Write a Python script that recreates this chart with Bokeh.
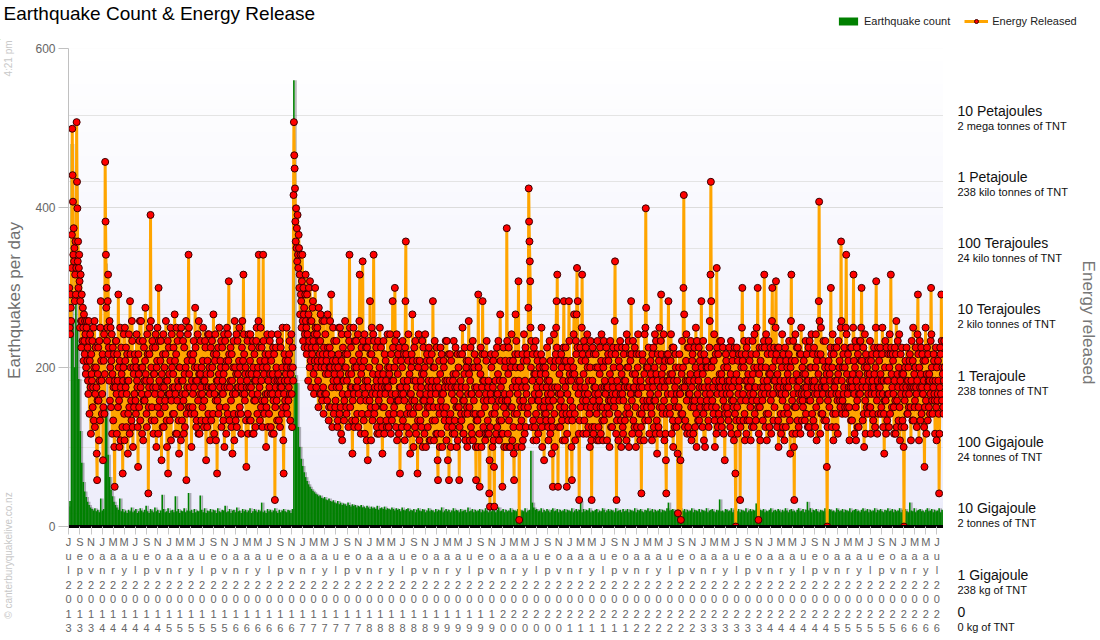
import math
import numpy as np
import pandas as pd
from bokeh.plotting import figure
from bokeh.layouts import column, row
from bokeh.models import (Range1d, FixedTicker, Label, Legend, LegendItem,
                          BoxAnnotation, Grid, ColumnDataSource)
from bokeh.embed import file_html
from bokeh.resources import INLINE

# ---------------- data ----------------
START_DATE = "2013-07-01"
ENERGY_STEP_DAYS = 2
COUNT_STEP_DAYS = 8

# daily energy released, log10(joules), one reading every 2 days
energy_log10_j = [
    # 2013-14
    12.9, 13.1, 13.4, 12.8, 12.7, 13.3, 13.1, 12.9, 13.7, 14.2, 15.8, 15.1, 14.7, 13.9, 14.3, 13.8, 14.0, 13.2, 13.6, 14.1, 13.3, 13.7, 15.9, 15.0, 14.6, 13.8,
    14.1, 13.4, 13.7, 13.9, 13.5, 12.8, 13.2, 13.6, 12.9, 12.5, 13.3, 12.9, 12.6, 13.1, 12.8, 12.3, 13.0, 12.6, 12.4, 12.9, 12.7, 12.1, 12.2, 12.8, 12.9, 12.3,
    12.5, 12.0, 11.8, 12.9, 12.6, 11.5, 12.3, 12.7, 11.9, 11.2, 12.4, 12.1, 12.0, 12.6, 11.6, 11.9, 12.8, 11.4, 12.2, 12.9, 11.3, 11.8, 12.5, 12.2, 11.9, 10.9,
    10.5, 11.7, 12.1, 12.5, 11.7, 11.1, 12.6, 12.0, 11.4, 12.8, 13.2, 12.3, 12.0, 11.5, 11.8, 12.4, 10.8, 11.6, 12.3, 12.7, 11.5, 12.1, 15.3, 14.4, 13.9, 13.1,
    13.4, 12.6, 12.8, 13.2, 13.6, 12.4, 12.5, 12.0, 12.9, 11.7, 12.2, 12.8, 11.6, 12.3, 12.7, 11.2, 12.1, 12.5, 11.4, 11.9, 12.4, 11.0, 10.4, 12.0, 11.9, 12.6,
    12.6, 11.8, 11.2, 12.4, 12.0, 11.6, 13.3, 12.2, 11.7, 11.0, 12.3, 12.8, 11.1, 11.9, 12.5, 12.1, 11.8, 11.3, 10.6, 12.0, 12.2, 12.7, 11.5, 11.1, 12.8, 12.3,
    11.9, 12.5, 11.3, 11.8, 12.4, 12.0, 10.9, 11.5, 12.0, 12.7, 11.6, 11.2, 13.2, 12.4, 12.2, 11.7, 11.4, 12.9, 12.6, 11.3, 11.0, 12.2, 12.1, 11.6, 11.8, 12.4,
    # 2014-15
    12.3, 11.7, 11.5, 12.2, 12.7, 12.0, 11.9, 11.3, 10.7, 12.4, 12.1, 11.6, 12.6, 12.9, 11.4, 11.9, 12.9, 12.2, 11.8, 11.2, 12.2, 12.6, 11.1, 11.7, 12.5, 12.0,
    11.7, 12.3, 13.1, 12.1, 12.0, 11.5, 11.3, 12.7, 12.4, 11.8, 10.3, 11.6, 11.9, 12.4, 12.8, 12.0, 14.5, 12.9, 12.2, 11.4, 11.6, 12.6, 12.5, 11.9, 11.2, 12.1,
    12.1, 11.4, 11.8, 12.5, 12.7, 11.9, 11.0, 12.2, 12.3, 12.8, 11.6, 11.2, 13.4, 12.6, 12.0, 11.7, 11.5, 12.3, 12.6, 11.8, 10.8, 12.1, 11.9, 11.3, 12.4, 12.7,
    11.3, 11.9, 12.2, 11.6, 11.7, 12.4, 12.9, 12.0, 11.4, 11.0, 12.0, 12.6, 10.6, 11.8, 12.5, 12.1, 11.8, 11.4, 12.3, 12.8, 11.1, 11.7, 12.7, 12.2, 11.9, 11.5,
    12.1, 12.5, 11.5, 11.9, 13.0, 12.3, 11.8, 11.2, 12.4, 12.8, 11.2, 11.7, 12.6, 12.0, 11.9, 11.4, 10.9, 12.2, 12.2, 12.7, 11.6, 11.1, 12.8, 12.0, 11.4, 11.8,
    12.0, 12.6, 11.7, 11.2, 12.5, 12.1, 11.3, 11.8, 12.2, 12.9, 10.5, 11.5, 11.9, 12.3, 12.7, 11.6, 13.9, 12.8, 12.1, 11.9, 11.6, 12.4, 12.4, 11.5, 11.0, 12.0,
    12.3, 11.6, 11.8, 12.4, 12.6, 11.9, 11.5, 12.2, 13.1, 12.5, 12.0, 11.3, 11.4, 12.0, 12.2, 12.7, 11.7, 11.2, 12.9, 12.1, 11.2, 11.8, 12.1, 12.6, 11.9, 11.4,
    # 2015-16
    12.2, 11.8, 11.6, 12.3, 12.8, 12.0, 11.3, 11.7, 12.0, 12.6, 12.5, 11.4, 10.8, 12.1, 11.9, 11.3, 12.3, 12.7, 11.5, 11.9, 12.7, 12.2, 11.8, 11.1, 12.1, 12.5,
    11.4, 11.9, 12.6, 12.2, 11.9, 11.5, 13.0, 12.4, 11.2, 11.8, 12.3, 12.7, 11.7, 11.1, 12.4, 12.0, 10.6, 11.7, 12.0, 12.5, 11.5, 12.1, 12.8, 11.6, 11.9, 12.3,
    12.2, 12.6, 11.3, 11.8, 12.5, 12.0, 11.8, 11.4, 12.1, 12.7, 11.0, 11.9, 12.6, 12.2, 11.6, 11.2, 12.3, 12.8, 11.9, 11.5, 12.7, 12.3, 13.5, 12.4, 11.4, 11.9,
    12.0, 12.5, 11.7, 11.3, 12.4, 12.0, 10.9, 11.8, 12.2, 12.6, 11.5, 11.1, 12.9, 12.2, 11.8, 11.4, 12.1, 12.7, 11.3, 11.9, 12.6, 12.1, 11.9, 11.5, 12.3, 12.8,
    11.6, 12.2, 12.0, 11.5, 11.2, 11.9, 12.5, 12.9, 11.8, 12.3, 13.6, 12.7, 12.4, 11.8, 11.7, 12.1, 12.2, 11.4, 10.7, 11.9, 12.0, 12.6, 11.5, 11.2, 12.7, 12.1,
    11.9, 11.4, 12.3, 12.7, 11.4, 11.9, 12.1, 12.5, 11.8, 11.2, 12.6, 12.2, 11.2, 11.7, 12.4, 12.0, 11.7, 11.3, 12.0, 12.6, 12.8, 12.1, 11.5, 11.8, 12.2, 12.9,
    13.9, 12.5, 11.9, 11.4, 12.3, 12.8, 11.6, 12.0, 12.5, 11.7, 11.3, 12.2, 13.9, 12.6, 12.1, 11.5, 11.7, 12.3, 12.4, 11.8, 11.0, 11.6, 12.2, 12.7, 11.8, 11.3,
    # 2016-17 (Kaikoura, 14 Nov 2016)
    12.0, 12.4, 11.5, 11.9, 12.6, 12.1, 11.8, 11.3, 12.3, 12.7, 11.2, 11.8, 12.1, 12.5, 11.7, 11.2, 12.4, 12.0, 10.2, 11.6, 11.9, 12.5, 12.2, 11.7, 11.4, 12.0,
    12.7, 12.1, 11.8, 11.4, 12.0, 12.6, 11.3, 11.9, 12.5, 12.0, 11.9, 11.5, 12.2, 12.8, 11.6, 11.1, 10.6, 11.8, 12.4, 12.0, 11.7, 12.3, 12.1, 11.6, 12.8, 12.2,
    11.5, 12.0, 12.3, 11.7, 11.9, 12.4, 12.6, 11.8, 11.4, 12.1, 12.2, 12.7, 11.8, 11.3, 12.5, 12.2, 12.0, 14.8, 15.9, 15.4, 15.2, 14.9, 14.4, 14.1, 14.6, 14.0,
    14.3, 13.8, 14.5, 13.9, 13.7, 14.2, 14.0, 13.4, 13.6, 13.0, 13.9, 13.3, 13.2, 12.8, 13.5, 13.9, 12.9, 12.6, 13.4, 13.0, 13.1, 12.5, 12.7, 13.3, 13.6, 12.9,
    12.8, 12.4, 13.3, 12.7, 12.5, 12.0, 13.0, 13.4, 12.6, 12.2, 13.5, 12.9, 12.3, 11.9, 12.9, 12.5, 12.4, 13.1, 13.2, 12.6, 12.1, 11.8, 12.7, 12.3, 13.4, 12.8,
    12.5, 11.9, 12.2, 12.7, 12.8, 12.3, 12.0, 11.6, 13.1, 12.6, 12.4, 11.8, 12.6, 13.0, 11.8, 12.2, 12.3, 11.7, 12.9, 12.4, 11.9, 11.5, 12.5, 12.9, 12.2, 11.8,
    12.7, 12.1, 11.8, 12.3, 12.4, 11.7, 13.0, 12.5, 12.1, 11.4, 11.6, 12.2, 12.5, 12.9, 12.2, 11.6, 13.3, 12.4, 11.9, 11.3, 12.3, 12.8, 12.0, 11.5, 12.6, 12.1,
    # 2017-18
    12.2, 11.6, 11.7, 12.3, 12.6, 11.9, 12.0, 11.3, 11.4, 12.2, 12.4, 12.8, 11.9, 11.5, 12.8, 12.1, 11.6, 11.2, 12.3, 12.7, 11.1, 11.8, 12.5, 12.0, 12.0, 11.4,
    11.7, 12.2, 12.9, 12.4, 12.2, 11.6, 11.5, 12.0, 12.4, 12.7, 11.8, 11.3, 12.1, 12.6, 13.9, 12.8, 11.6, 11.9, 12.5, 12.1, 11.9, 11.4, 10.9, 11.7, 12.3, 12.8,
    11.8, 11.3, 12.2, 12.6, 11.4, 11.9, 12.6, 12.2, 11.9, 11.5, 12.0, 12.7, 11.3, 11.8, 12.4, 12.9, 13.6, 12.3, 11.7, 11.2, 12.1, 12.5, 11.5, 12.2, 13.8, 12.6,
    11.9, 11.4, 12.3, 12.7, 11.2, 11.8, 12.0, 12.5, 11.7, 11.1, 12.5, 12.0, 10.8, 11.5, 11.9, 12.6, 12.2, 11.7, 13.2, 12.4, 11.6, 11.1, 12.4, 12.8, 11.8, 11.4,
    12.1, 12.7, 13.9, 12.6, 11.5, 11.9, 12.3, 11.6, 11.8, 12.5, 12.0, 11.3, 11.2, 11.9, 12.6, 12.1, 11.7, 11.2, 12.2, 12.8, 11.4, 11.8, 12.5, 12.0, 11.9, 11.3,
    10.9, 11.6, 12.1, 12.6, 11.6, 11.2, 12.4, 11.9, 11.8, 12.3, 12.0, 11.4, 11.3, 11.9, 12.7, 12.2, 11.9, 11.3, 11.5, 12.1, 12.2, 12.7, 11.7, 11.2, 12.4, 11.8,
    11.4, 12.0, 13.2, 12.5, 12.0, 11.5, 11.6, 12.2, 13.4, 12.6, 11.8, 11.3, 12.3, 12.7, 11.1, 11.7, 12.1, 12.4, 11.7, 11.2, 12.5, 11.9, 10.6, 11.5, 11.9, 12.3,
    # 2018-19
    11.8, 11.3, 12.2, 12.6, 11.4, 11.8, 12.0, 12.4, 11.7, 11.1, 12.5, 13.2, 14.1, 12.4, 11.9, 11.5, 11.3, 12.0, 12.3, 12.7, 11.6, 11.2, 12.1, 11.8, 10.9, 11.5,
    11.8, 12.2, 12.4, 11.7, 13.0, 12.3, 11.5, 11.0, 12.0, 12.5, 11.7, 11.3, 12.6, 12.0, 11.2, 11.6, 11.9, 12.3, 10.6, 11.4, 12.2, 12.7, 11.6, 11.1, 12.3, 11.8,
    11.4, 12.0, 11.9, 11.3, 12.1, 12.6, 11.0, 11.7, 12.5, 12.1, 11.7, 11.2, 12.2, 12.7, 11.5, 11.0, 11.8, 12.3, 12.4, 11.6, 11.3, 11.9, 12.0, 12.5, 11.6, 11.1,
    12.3, 11.7, 11.1, 11.8, 11.9, 12.4, 12.0, 11.4, 13.2, 12.2, 11.6, 11.1, 12.2, 12.6, 11.4, 11.9, 11.8, 11.2, 12.5, 12.0, 11.2, 10.8, 10.5, 11.6, 11.9, 12.3,
    11.5, 11.0, 12.1, 12.5, 11.7, 11.2, 12.4, 11.8, 11.0, 11.6, 11.8, 12.3, 12.2, 11.5, 11.4, 11.9, 12.0, 12.6, 11.6, 11.1, 12.6, 12.0, 11.3, 10.8, 11.9, 12.4,
    10.5, 11.4, 12.0, 12.4, 11.5, 11.0, 12.3, 11.9, 11.8, 11.3, 11.2, 12.0, 12.1, 12.6, 11.7, 11.2, 11.4, 11.9, 12.5, 12.1, 11.6, 11.0, 11.9, 12.4, 11.1, 11.6,
    12.2, 11.6, 10.5, 11.3, 11.8, 12.4, 12.0, 11.5, 11.4, 11.9, 12.4, 12.8, 11.7, 11.2, 11.2, 11.7, 12.1, 12.5, 11.5, 11.1, 11.9, 12.2, 12.3, 11.6, 11.0, 11.5, 11.8, 12.3,
    # 2019-20
    12.9, 12.1, 11.6, 11.1, 12.0, 12.5, 11.3, 11.8, 11.8, 11.2, 12.2, 12.6, 11.1, 11.5, 11.7, 12.2, 12.4, 11.9, 11.5, 11.0, 10.5, 11.4, 11.9, 12.3, 11.4, 11.0,
    13.3, 12.2, 11.8, 11.2, 10.4, 11.5, 12.1, 12.5, 11.5, 11.0, 11.9, 12.4, 13.2, 12.0, 11.3, 11.7, 12.0, 12.4, 11.6, 11.1, 11.2, 11.8, 12.3, 12.6, 11.7, 11.2,
    11.4, 11.9, 12.0, 11.2, 10.3, 10.8, 10.1, 11.3, 11.8, 12.4, 12.2, 11.7, 11.5, 11.0, 11.9, 12.3, 11.1, 10.7, 10.1, 11.5, 12.4, 12.0, 11.6, 11.2, 11.8, 12.5,
    11.3, 11.8, 12.1, 12.6, 11.7, 11.1, 11.4, 12.0, 13.0, 12.3, 11.9, 11.4, 11.2, 11.7, 10.4, 11.2, 12.0, 12.5, 11.6, 11.0, 11.8, 12.2, 12.3, 11.7, 11.5, 11.0,
    14.3, 12.6, 11.7, 11.2, 12.1, 12.5, 11.4, 11.0, 11.8, 12.3, 11.0, 11.6, 12.2, 12.7, 11.6, 11.1, 11.9, 12.3, 11.3, 10.9, 10.5, 11.5, 12.0, 12.4, 13.0, 12.2,
    12.6, 11.9, 11.5, 11.0, 11.8, 12.4, 13.5, 12.0, 9.9, 11.3, 11.7, 12.2, 12.2, 11.6, 11.4, 11.0, 11.9, 12.4, 11.1, 11.7, 12.3, 12.7, 11.6, 11.2, 12.0, 12.5,
    11.3, 11.9, 11.8, 12.3, 12.4, 11.5, 11.6, 13.1, 14.9, 14.4, 14.1, 13.8, 13.5, 12.8, 12.2, 12.6, 11.7, 11.3, 12.0, 12.4, 11.4, 11.1, 12.5, 12.1, 11.8, 11.3,
    # 2020-21
    12.1, 12.6, 11.5, 11.1, 11.9, 12.4, 12.3, 11.7, 11.2, 11.7, 11.8, 12.2, 12.0, 11.4, 11.6, 12.1, 12.4, 12.8, 11.3, 11.0, 11.9, 12.3, 12.2, 11.6, 10.8, 11.5,
    11.7, 12.2, 12.1, 11.5, 11.4, 11.9, 12.5, 12.0, 11.8, 11.3, 11.1, 11.7, 12.0, 12.6, 11.6, 11.2, 12.3, 11.8, 11.4, 10.9, 11.9, 11.3, 10.4, 11.7, 12.2, 12.7,
    11.5, 11.0, 11.9, 12.3, 12.4, 12.8, 13.2, 12.5, 13.6, 11.9, 10.4, 11.3, 11.8, 12.3, 12.1, 11.6, 11.3, 11.8, 11.7, 12.4, 12.2, 11.4, 11.5, 11.1, 12.0, 12.5,
    13.2, 12.3, 11.6, 11.1, 11.9, 12.5, 12.3, 11.5, 10.4, 11.2, 11.8, 12.2, 11.4, 12.0, 13.2, 12.6, 12.1, 11.5, 11.7, 12.3, 12.0, 11.0, 10.5, 11.4, 11.6, 12.1,
    12.2, 12.7, 13.0, 12.1, 11.5, 11.1, 11.9, 12.6, 12.4, 13.0, 13.7, 12.5, 13.2, 12.0, 11.8, 11.2, 10.2, 11.4, 12.0, 12.5, 11.6, 11.9, 12.3, 12.8, 13.6, 12.4,
    11.7, 11.2, 12.1, 12.6, 11.4, 11.8, 11.9, 12.3, 12.5, 11.7, 11.2, 11.6, 12.7, 12.2, 11.8, 11.3, 12.0, 12.4, 11.5, 11.0, 12.2, 12.6, 11.6, 11.1, 10.2, 11.3,
    12.0, 12.5, 11.7, 11.2, 12.4, 11.9, 11.3, 11.8, 11.9, 12.4, 12.2, 11.6, 11.5, 11.1, 12.6, 12.2, 11.8, 11.3, 11.1, 11.7, 12.1, 12.5, 11.6, 11.2, 12.3, 12.7, 11.9, 11.4,
    # 2021-22
    11.6, 11.1, 12.2, 12.6, 11.4, 11.9, 12.0, 11.5, 11.8, 12.3, 12.5, 11.9, 11.1, 11.6, 11.9, 12.4, 12.3, 11.7, 11.5, 11.0, 12.1, 12.6, 11.7, 11.3, 12.4, 12.0,
    11.3, 11.8, 11.9, 12.5, 12.2, 11.7, 11.6, 12.9, 13.8, 12.4, 11.8, 11.2, 10.2, 11.4, 12.0, 12.5, 11.5, 11.1, 12.3, 11.9, 11.7, 12.2, 12.6, 11.8, 11.4, 11.0,
    12.1, 12.5, 11.8, 11.3, 11.2, 11.7, 12.4, 12.0, 11.9, 11.4, 12.0, 12.5, 11.5, 11.1, 12.7, 12.2, 11.6, 11.9, 12.2, 12.6, 11.0, 11.5, 11.9, 12.4, 12.3, 11.8,
    13.2, 12.4, 11.7, 11.2, 12.1, 12.6, 11.4, 11.9, 11.9, 11.3, 12.5, 12.1, 11.6, 11.0, 12.0, 12.4, 11.3, 11.8, 12.2, 12.7, 11.8, 11.2, 12.4, 11.9, 11.5, 11.1,
    12.0, 11.3, 10.3, 11.5, 11.9, 12.4, 12.3, 11.7, 11.6, 11.1, 12.1, 12.7, 11.4, 12.8, 14.6, 13.1, 12.2, 11.6, 11.7, 12.2, 11.9, 11.4, 12.5, 12.0, 11.2, 11.7,
    11.8, 12.3, 12.1, 11.6, 11.5, 11.1, 12.4, 12.0, 11.9, 12.5, 11.3, 11.7, 12.2, 12.7, 11.7, 11.2, 12.6, 12.1, 11.4, 10.9, 12.0, 12.4, 11.8, 11.3, 12.3, 12.8,
    11.6, 11.2, 11.9, 12.6, 13.3, 12.4, 12.1, 11.6, 11.5, 12.0, 12.2, 12.7, 11.7, 11.1, 11.9, 12.3, 11.2, 10.8, 10.3, 11.5, 12.4, 12.0, 11.8, 12.4, 13.2, 12.3,
    # 2022-23
    12.0, 11.6, 11.5, 12.1, 12.3, 12.7, 11.8, 11.2, 12.1, 12.5, 11.4, 11.0, 12.5, 12.0, 11.7, 11.3, 11.9, 12.4, 12.2, 11.6, 11.3, 11.8, 12.0, 10.9, 10.0, 11.4,
    11.6, 12.2, 12.4, 11.8, 11.8, 10.8, 9.9, 11.5, 12.1, 12.6, 11.5, 11.9, 12.2, 13.4, 14.8, 13.0, 11.9, 11.3, 11.4, 12.0, 12.3, 12.7, 11.7, 11.2, 12.0, 12.5,
    11.3, 11.8, 12.5, 12.0, 11.8, 11.2, 12.1, 12.6, 11.6, 11.1, 11.9, 12.3, 12.4, 11.7, 11.2, 11.6, 12.0, 12.5, 11.7, 11.3, 12.2, 12.8, 11.5, 11.0, 12.6, 12.1,
    11.8, 11.4, 12.0, 12.5, 11.4, 11.9, 12.3, 11.6, 11.7, 12.4, 13.2, 12.2, 11.9, 11.3, 12.1, 12.6, 11.5, 11.1, 12.4, 11.9, 11.0, 11.6, 11.8, 12.3, 12.2, 11.7,
    11.6, 12.2, 12.0, 11.4, 11.3, 11.9, 12.5, 12.9, 11.8, 13.6, 15.0, 13.2, 12.2, 11.6, 11.7, 12.3, 11.9, 11.5, 12.3, 12.7, 11.4, 11.0, 12.0, 12.4, 11.6, 11.2,
    13.7, 12.5, 11.8, 11.3, 12.4, 11.9, 11.5, 12.0, 12.1, 12.6, 11.9, 11.4, 12.6, 12.1, 11.3, 11.8, 12.0, 12.5, 11.7, 11.2, 12.2, 11.6, 10.8, 11.5, 11.9, 12.4,
    12.3, 11.8, 11.6, 12.2, 12.0, 11.5, 11.4, 11.9, 12.5, 12.0, 11.8, 11.3, 12.1, 12.6, 11.2, 11.7, 11.9, 12.3, 12.4, 11.7, 11.6, 11.1, 12.0, 12.5, 11.5, 10.6, 9.8, 11.4,
    # 2023-24
    12.1, 12.5, 11.6, 11.2, 12.3, 11.8, 11.9, 12.4, 12.0, 11.4, 10.2, 11.3, 11.7, 12.2, 12.4, 12.8, 13.4, 12.3, 11.8, 11.4, 12.2, 12.6, 11.5, 11.1, 12.0, 12.4,
    11.7, 11.2, 12.5, 12.0, 11.4, 11.9, 12.1, 12.6, 11.9, 11.4, 12.3, 11.8, 11.6, 11.1, 12.0, 12.4, 11.3, 11.7, 12.6, 12.1, 11.8, 11.3, 12.2, 12.7, 11.5, 11.9,
    11.9, 11.4, 12.4, 12.8, 11.7, 12.2, 13.4, 11.6, 9.9, 11.2, 12.1, 12.5, 11.6, 11.1, 12.3, 11.9, 11.8, 12.2, 12.5, 11.7, 11.4, 11.9, 12.0, 12.6, 13.6, 12.5,
    11.8, 11.3, 12.2, 12.7, 11.5, 11.1, 12.0, 12.4, 11.9, 11.5, 12.6, 12.1, 11.3, 11.8, 12.1, 12.5, 11.7, 11.2, 12.4, 12.9, 13.4, 12.2, 11.8, 11.4, 12.0, 12.5,
    11.6, 12.0, 12.3, 12.8, 13.5, 12.4, 11.9, 11.3, 12.1, 12.5, 11.4, 11.0, 12.5, 11.9, 11.8, 12.3, 12.0, 11.5, 11.2, 11.8, 12.2, 12.7, 11.7, 11.3, 12.4, 11.9,
    11.5, 11.1, 12.0, 12.5, 11.8, 11.3, 12.3, 11.9, 11.6, 12.2, 12.1, 11.5, 11.9, 12.4, 12.6, 12.0, 11.4, 10.9, 12.2, 12.9, 13.6, 12.3, 11.7, 11.2, 12.0, 12.6,
    11.8, 11.0, 10.2, 11.6, 12.3, 12.7, 11.6, 11.2, 12.1, 12.5, 11.9, 11.4, 12.5, 12.0, 11.3, 11.8, 12.0, 12.4, 11.7, 11.2, 12.4, 12.8, 11.8, 11.4, 12.2, 11.7,
    # 2024-25
    11.6, 12.1, 12.3, 11.8, 11.9, 11.4, 12.1, 12.6, 11.5, 11.9, 12.4, 12.0, 11.8, 11.3, 12.0, 12.5, 11.3, 11.7, 12.6, 12.2, 11.7, 11.2, 12.2, 12.7, 11.9, 11.5,
    12.0, 12.4, 11.4, 11.9, 12.5, 12.0, 11.8, 11.3, 12.2, 12.7, 11.6, 11.1, 12.3, 11.8, 11.9, 12.4, 12.1, 13.2, 14.7, 12.9, 11.7, 11.2, 12.4, 12.8, 11.5, 11.9,
    12.0, 11.5, 11.8, 12.3, 12.6, 12.0, 11.4, 11.9, 12.2, 12.6, 11.9, 11.4, 12.1, 10.7, 9.8, 11.3, 11.7, 12.2, 12.3, 11.8, 11.6, 12.1, 12.0, 12.5, 13.4, 12.4,
    11.8, 11.3, 12.2, 12.7, 11.5, 11.1, 12.4, 11.9, 11.9, 12.5, 12.0, 11.5, 11.3, 11.8, 12.5, 12.0, 11.7, 11.2, 12.1, 12.6, 11.8, 12.2, 12.3, 11.7, 11.6, 12.8,
    14.1, 12.9, 12.0, 11.5, 11.7, 12.2, 12.4, 11.8, 11.9, 12.5, 12.2, 11.6, 11.5, 12.8, 13.9, 12.7, 12.1, 11.6, 11.8, 12.4, 12.3, 11.9, 11.6, 11.1, 12.0, 12.5,
    11.9, 11.4, 12.5, 12.0, 11.4, 11.9, 12.1, 12.8, 13.6, 12.3, 11.8, 11.2, 12.2, 12.6, 11.6, 11.1, 12.0, 12.5, 11.7, 11.3, 12.4, 11.9, 11.3, 11.8, 12.1, 12.6,
    11.8, 12.6, 12.3, 12.8, 13.4, 12.3, 11.9, 11.4, 12.0, 12.5, 11.5, 11.0, 12.2, 12.7, 11.7, 11.2, 12.4, 11.9, 11.6, 12.2, 12.1, 11.5, 11.8, 12.3, 12.0, 11.6,
    # 2025-26
    12.1, 12.6, 11.6, 11.2, 12.3, 11.8, 11.9, 12.4, 12.0, 11.5, 11.4, 11.9, 12.5, 12.1, 11.8, 11.3, 12.2, 12.8, 13.5, 12.4, 11.7, 11.2, 12.0, 12.5, 11.5, 11.9,
    12.3, 11.8, 11.9, 12.5, 12.1, 11.5, 11.6, 12.0, 12.4, 12.8, 11.8, 11.3, 12.0, 11.5, 10.9, 11.7, 12.2, 12.6, 11.7, 11.2, 12.5, 12.0, 11.4, 11.8, 12.0, 12.4,
    11.8, 11.3, 12.2, 12.7, 11.5, 12.4, 13.6, 12.5, 12.1, 11.6, 11.9, 12.4, 12.3, 11.8, 11.6, 11.2, 12.0, 12.5, 11.7, 11.2, 12.4, 12.9, 11.3, 11.7, 12.1, 12.6,
    11.9, 11.4, 12.2, 12.7, 11.6, 11.1, 12.0, 12.4, 11.8, 11.3, 12.5, 12.1, 11.4, 11.9, 12.1, 11.0, 9.8, 11.3, 11.7, 12.2, 12.3, 11.8, 11.9, 12.5, 12.0, 11.5,
    11.5, 12.0, 12.2, 11.6, 11.8, 12.3, 12.4, 11.9, 11.6, 11.1, 12.0, 12.6, 11.9, 11.4, 12.3, 12.8, 11.4, 11.9, 12.1, 11.6, 11.7, 12.2, 12.5, 11.9, 11.8, 11.3,
    12.0, 12.7, 13.3, 12.4, 11.6, 11.1, 12.2, 12.6, 11.9, 11.4, 12.1, 12.5, 11.5, 11.9, 12.4, 11.8, 11.8, 12.3, 12.0, 11.3, 10.7, 11.6, 12.3, 12.8, 11.7, 11.2,
    12.1, 12.5, 11.9, 11.4, 12.4, 12.0, 11.6, 12.1, 12.0, 11.5, 11.8, 12.6, 13.4, 12.7, 12.2, 11.7, 11.5, 12.0, 11.9, 12.4, 12.3, 11.8, 11.7, 11.2, 12.0, 12.5, 11.6, 11.1,
    # Jul-Aug 2026
    12.2, 11.7, 11.8, 12.3, 12.0, 11.5, 10.3, 11.2, 11.9, 12.5, 12.4, 11.8, 13.3, 12.6, 11.7, 12.2, 12.1, 11.6, 11.5, 12.0, 12.6, 12.2,
]

# earthquakes per day, one reading every 8 days
eq_count = [
    25, 32, 480, 260, 200, 435, 250, 185, 120, 80, 56, 44, 37, 31, 27, 24, 22, 20, 23, 19,
    21, 18, 35, 20, 22, 330, 150, 90, 62, 46, 38, 31, 27, 24, 21, 35, 19, 22, 18, 20,
    17, 21, 19, 24, 18, 20, 22, 17, 19, 23, 20, 18, 21, 26, 19, 17, 22, 20, 18, 24,
    19, 21, 17, 20, 40, 22, 18, 19, 23, 17, 20, 21, 18, 38, 19, 22, 17, 20, 19, 23,
    18, 20, 42, 19, 21, 17, 22, 18, 20, 19, 39, 21, 18, 23, 17, 20, 19, 22, 18, 21,
    20, 17, 23, 19, 18, 21, 20, 26, 18, 19, 22, 17, 20, 21, 18, 24, 19, 20, 17, 22,
    19, 21, 18, 20, 23, 17, 19, 22, 20, 18, 21, 19, 30, 18, 20, 17, 22, 19, 21, 18,
    20, 23, 19, 17, 21, 18, 20, 22, 19, 18, 21, 20, 17, 22, 560, 190, 180, 125, 100, 85,
    76, 68, 62, 57, 53, 50, 47, 45, 43, 41, 40, 38, 39, 36, 35, 37, 34, 33, 35, 32,
    31, 33, 30, 29, 32, 28, 30, 27, 29, 28, 26, 30, 27, 25, 28, 26, 27, 24, 26, 25,
    27, 24, 25, 23, 26, 24, 22, 25, 23, 24, 22, 26, 21, 23, 24, 22, 25, 21, 23, 22,
    21, 24, 22, 20, 23, 21, 22, 19, 24, 21, 20, 22, 23, 19, 21, 20, 22, 18, 21, 23,
    20, 19, 22, 21, 18, 20, 23, 19, 21, 20, 18, 22, 19, 21, 20, 24, 18, 20, 22, 19,
    21, 18, 20, 23, 19, 21, 20, 18, 22, 19, 20, 21, 18, 24, 19, 20, 22, 18, 21, 19,
    20, 22, 18, 21, 19, 23, 20, 18, 21, 19, 22, 20, 18, 21, 24, 19, 20, 22, 18, 21,
    19, 20, 23, 18, 21, 20, 19, 22, 18, 21, 20, 19, 23, 18, 20, 21, 95, 30, 24, 21,
    22, 19, 20, 23, 18, 21, 19, 22, 20, 18, 21, 23, 19, 20, 22, 18, 21, 19, 20, 22,
    18, 21, 20, 19, 23, 18, 20, 22, 19, 21, 32, 18, 22, 19, 21, 20, 23, 18, 20, 19,
    21, 22, 18, 20, 19, 23, 21, 18, 20, 22, 19, 21, 20, 18, 23, 19, 20, 21, 18, 22,
    19, 20, 22, 18, 21, 20, 19, 23, 18, 21, 20, 22, 19, 18, 21, 20, 23, 19, 20, 22,
    18, 21, 19, 20, 22, 18, 21, 20, 19, 23, 30, 20, 21, 22, 19, 18, 21, 20, 23, 19,
    20, 22, 18, 21, 19, 20, 23, 18, 21, 20, 19, 22, 18, 21, 20, 19, 23, 18, 20, 21,
    22, 19, 18, 21, 20, 34, 19, 20, 18, 22, 21, 19, 20, 23, 18, 21, 20, 19, 22, 18,
    21, 20, 19, 23, 18, 20, 22, 19, 21, 20, 29, 23, 19, 21, 20, 22, 18, 20, 19, 21,
    23, 18, 20, 21, 19, 22, 20, 18, 21, 19, 23, 20, 18, 21, 22, 19, 20, 18, 21, 23,
    19, 20, 22, 18, 21, 31, 20, 23, 18, 21, 20, 22, 19, 18, 21, 20, 19, 23, 18, 20,
    22, 21, 19, 20, 18, 23, 21, 19, 20, 22, 18, 21, 20, 19, 23, 18, 20, 21, 22, 19,
    20, 18, 21, 23, 19, 20, 22, 18, 21, 19, 20, 23, 18, 21, 20, 22, 19, 18, 21, 20,
    23, 19, 20, 22, 18, 21, 19, 20, 23, 18, 21, 20, 22, 19, 18, 30, 20, 19, 23, 18,
    20, 21, 22, 19, 20, 18, 21, 23, 19, 20, 22, 18, 21, 19, 20, 23, 18, 21, 20,
]

# left axis ticks (earthquakes per day)
count_ticks = [0, 200, 400, 600]

# right axis (energy) tick values, log10(J), and their two-line labels
energy_tick_log10 = [16, 15, 14, 13, 12, 11, 10, 9, 8.44]
energy_tick_units = ["10 Petajoules", "1 Petajoule", "100 Terajoules", "10 Terajoules",
                     "1 Terajoule", "100 Gigajoule", "10 Gigajoule", "1 Gigajoule", "0"]
energy_tick_tnt = ["2 mega tonnes of TNT", "238 kilo tonnes of TNT", "24 kilo tonnes of TNT",
                   "2 kilo tonnes of TNT", "238 tonnes of TNT", "24 tonnes of TNT",
                   "2 tonnes of TNT", "238 kg of TNT", "0 kg of TNT"]
energy_grid_log10 = [10, 11, 12, 13, 14, 15, 16]

# x tick labels: every 2nd month from Jul 2013 to Jul 2026
month_abbr = ["Jan", "Feb", "Mar", "Apr", "May", "Jun",
              "Jul", "Aug", "Sep", "Oct", "Nov", "Dec"]
tick_first = (2013, 7)
tick_last = (2026, 7)
tick_every_months = 2

# ---------------- layout constants ----------------
FONT = "Liberation Sans"
GREEN, ORANGE, RED, DOT_EDGE = "#008000", "#FFA500", "#FF0000", "#3A0000"
TOTAL_W, TOTAL_H = 1100, 640
HEAD_H = 40
LEFT_W = 24
FRAME_L, FRAME_T, FRAME_R, FRAME_B = 68, 48, 943, 526
FW, FH = FRAME_R - FRAME_L, FRAME_B - FRAME_T
RIGHT_W = TOTAL_W - FRAME_R
BODY_H = TOTAL_H - HEAD_H
PX_PER_DECADE = 66.3
Y_OF_1E16 = 115          # page y of the 10 PJ level


def energy_at(page_y):
    return 16 - (page_y - Y_OF_1E16) / PX_PER_DECADE


def bare(width, height, xr, yr):
    f = figure(width=width, height=height, x_range=xr, y_range=yr, min_border=0,
               x_axis_location=None, y_axis_location=None, toolbar_location=None,
               output_backend="svg", outline_line_color=None,
               background_fill_color="white", border_fill_color="white")
    f.grid.visible = False
    return f


# ---------------- header: title + legend ----------------
head = bare(TOTAL_W, HEAD_H, Range1d(0, TOTAL_W), Range1d(0, HEAD_H))
head.add_layout(Label(x=3, y=HEAD_H - 2, x_units="screen", y_units="screen",
                      text="Earthquake Count & Energy Release", text_font=FONT,
                      text_font_size="19px", text_color="#000000",
                      text_align="left", text_baseline="top"))
# legend keys (single datum placed outside the visible header range)
k_bar = head.vbar(x=[-500], top=[1], width=1, fill_color=GREEN, line_color=None)
k_line = head.line(x=[-500, -499], y=[1, 1], line_color=ORANGE, line_width=3)
k_dot = head.scatter(x=[-500], y=[1], size=7, fill_color=RED, line_color=DOT_EDGE)
legend = Legend(items=[LegendItem(label="Earthquake count", renderers=[k_bar]),
                       LegendItem(label="Energy Released", renderers=[k_line, k_dot])],
                orientation="horizontal", location=(836, 13),
                glyph_width=24, glyph_height=10, label_height=12, label_standoff=4,
                spacing=14, padding=0, margin=0,
                label_text_font=FONT, label_text_font_size="11px", label_text_color="#222222",
                border_line_color=None, background_fill_alpha=0)
head.add_layout(legend)

# ---------------- left strip: axis title + credits ----------------
left = bare(LEFT_W, BODY_H, Range1d(0, LEFT_W), Range1d(0, BODY_H))
left.add_layout(Label(x=14, y=TOTAL_H - 300, x_units="screen", y_units="screen",
                      text="Earthquakes per day", angle=math.pi / 2, text_font=FONT,
                      text_font_size="17px", text_color="#707070",
                      text_align="center", text_baseline="middle"))
left.add_layout(Label(x=8, y=TOTAL_H - 58, x_units="screen", y_units="screen",
                      text="4:21 pm", angle=math.pi / 2, text_font=FONT,
                      text_font_size="10px", text_color="#C8C8C8",
                      text_align="center", text_baseline="middle"))
left.add_layout(Label(x=8, y=TOTAL_H - 555, x_units="screen", y_units="screen",
                      text="\u00a9 canterburyquakelive.co.nz", angle=math.pi / 2, text_font=FONT,
                      text_font_size="10px", text_color="#C8C8C8",
                      text_align="center", text_baseline="middle"))

# ---------------- main chart ----------------
t0 = pd.Timestamp(START_DATE)
e_dates = t0 + pd.to_timedelta(np.arange(len(energy_log10_j)) * ENERGY_STEP_DAYS, unit="D")
c_dates = t0 + pd.to_timedelta(np.arange(len(eq_count)) * COUNT_STEP_DAYS, unit="D")

x0 = pd.Timestamp("2013-06-30 12:00")
x1 = pd.Timestamp("2026-08-06")

p = figure(x_axis_type="datetime", x_range=Range1d(x0, x1), y_range=Range1d(0, 600),
           frame_width=FW, frame_height=FH,
           min_border_left=FRAME_L - LEFT_W, min_border_right=0,
           min_border_top=FRAME_T - HEAD_H, min_border_bottom=TOTAL_H - FRAME_B,
           output_backend="svg", toolbar_location=None,
           background_fill_color="white", border_fill_color="white",
           outline_line_color=None)

p.extra_y_ranges = {"energy": Range1d(energy_at(FRAME_B), energy_at(FRAME_T))}
shadow_shift = pd.Timedelta(days=11)
p.extra_x_ranges = {"shadow": Range1d(x0 - shadow_shift, x1 - shadow_shift)}

# plot-area gradient background
n_bands = 40
for k in range(n_bands):
    f = k / n_bands
    r = int(round(237 + (255 - 237) * f))
    g = int(round(237 + (255 - 237) * f))
    b = int(round(251 + (255 - 251) * f))
    p.add_layout(BoxAnnotation(bottom=600 * f, top=600, fill_color=(r, g, b), fill_alpha=1.0,
                               line_color=None, level="image"))

# grids
p.xgrid.visible = False
p.ygrid.ticker = FixedTicker(ticks=count_ticks)
p.ygrid.grid_line_color = "#DCDCDC"
p.add_layout(Grid(dimension=1, ticker=FixedTicker(ticks=energy_grid_log10), y_range_name="energy",
                  grid_line_color="#E4E4E4", grid_line_width=1))

# earthquake count columns with a shadow
src_c = ColumnDataSource(dict(date=c_dates, count=eq_count))
bar_w = 9 * 86400000
p.vbar(x="date", top="count", width=bar_w, source=src_c, x_range_name="shadow",
       fill_color="black", fill_alpha=0.28, line_color=None)
p.vbar(x="date", top="count", width=bar_w, source=src_c, fill_color=GREEN, line_color=None)

# energy released line + markers
src_e = ColumnDataSource(dict(date=e_dates, e=energy_log10_j))
p.line("date", "e", source=src_e, y_range_name="energy", line_color=ORANGE, line_width=3)
p.scatter("date", "e", source=src_e, y_range_name="energy", size=7,
          fill_color=RED, line_color=DOT_EDGE, line_width=1)

# x axis
ticks, overrides = [], {}
yy, mm = tick_first
while (yy, mm) <= tick_last:
    ms = int(pd.Timestamp(year=yy, month=mm, day=1).value // 10**6)
    ticks.append(ms)
    overrides[ms] = "\n".join(month_abbr[mm - 1] + str(yy))
    mm += tick_every_months
    if mm > 12:
        mm -= 12
        yy += 1
xa = p.xaxis[0]
xa.ticker = FixedTicker(ticks=ticks)
xa.major_label_overrides = overrides
xa.axis_line_color = "black"
xa.axis_line_width = 3
xa.major_tick_in = 0
xa.major_tick_out = 8
xa.major_tick_line_color = "#C8C8C8"
xa.minor_tick_line_color = None
xa.major_label_standoff = 1
xa.major_label_text_font = FONT
xa.major_label_text_font_size = "11px"
xa.major_label_text_color = "#666666"

# left axis
ya = p.yaxis[0]
ya.ticker = FixedTicker(ticks=count_ticks)
ya.axis_line_color = "#C0C0C0"
ya.major_tick_in = 0
ya.major_tick_out = 10
ya.major_tick_line_color = "#C0C0C0"
ya.minor_tick_line_color = None
ya.major_label_standoff = 3
ya.major_label_text_font = FONT
ya.major_label_text_font_size = "12px"
ya.major_label_text_color = "#666666"

# ---------------- right strip: energy scale labels ----------------
right = bare(RIGHT_W, BODY_H, Range1d(0, RIGHT_W),
             Range1d(energy_at(TOTAL_H), energy_at(HEAD_H)))
for lv, big, small in zip(energy_tick_log10, energy_tick_units, energy_tick_tnt):
    right.add_layout(Label(x=14, x_units="screen", y=lv, y_offset=5, text=big, text_font=FONT,
                           text_font_size="14px", text_color="#111111",
                           text_baseline="alphabetic", text_align="left"))
    right.add_layout(Label(x=14, x_units="screen", y=lv, y_offset=-10, text=small,
                           text_font=FONT, text_font_size="11px", text_color="#111111",
                           text_baseline="alphabetic", text_align="left"))
right.add_layout(Label(x=145, y=TOTAL_H - 322, x_units="screen", y_units="screen",
                       text="Energy released", angle=-math.pi / 2, text_font=FONT,
                       text_font_size="17px", text_color="#777777",
                       text_align="center", text_baseline="middle"))

# the chart sits in its own column so its frame is not aligned with the side strips
page = column(head, row(left, column(p, spacing=0), right, spacing=0), spacing=0)
open("out.html", "w").write(file_html(page, INLINE))
